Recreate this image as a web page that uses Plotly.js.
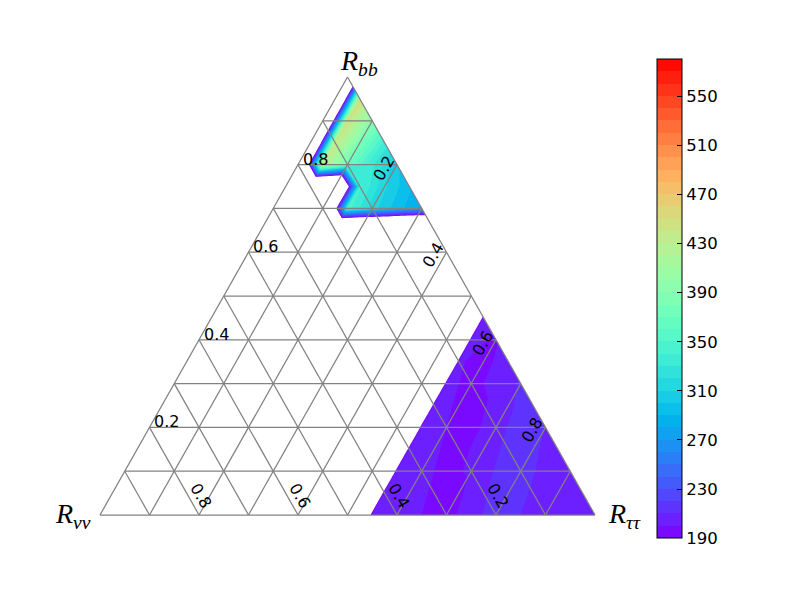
<!DOCTYPE html>
<html>
<head>
<meta charset="utf-8">
<script src="https://cdn.plot.ly/plotly-3.0.1.min.js"></script>
<style>html,body{margin:0;padding:0;background:#fff;}</style>
</head>
<body>
<div id="chart" style="width:800px;height:600px;"></div>
<script>
// ---------------- DATA ----------------
// Ternary lattice (step 0.05). Rows: R_bb value; columns: R_tautau value.
// R_nunu = 1 - R_bb - R_tautau. 0 = no allowed point (below lowest level).
const bbLevels = [0.00,0.05,0.10,0.15,0.20,0.25,0.30,0.35,0.40,0.45,0.50,
                  0.55,0.60,0.65,0.70,0.75,0.80,0.85,0.90,0.95,1.00];
const ttLevels = [0.00,0.05,0.10,0.15,0.20,0.25,0.30,0.35,0.40,0.45,0.50,
                  0.55,0.60,0.65,0.70,0.75,0.80,0.85,0.90,0.95,1.00];
// row j (R_bb = bbLevels[j]) lists values for R_tautau = 0 ... 1 - R_bb
const zRows = [
  [0,0,0,0,0,0,0,0,0,0,0, 205,204,200,196,206,215,210,206,205,204],
  [0,0,0,0,0,0,0,0,0,0,0, 205,203,199,198,209,214,209,206,205],
  [0,0,0,0,0,0,0,0,0,0,0, 204,202,198,201,211,213,208,205],
  [0,0,0,0,0,0,0,0,0,0,0, 204,201,197,204,213,211,207],
  [0,0,0,0,0,0,0,0,0,0,0, 204,200,196,207,214,210],
  [0,0,0,0,0,0,0,0,0,0,0, 203,199,199,209,213],
  [0,0,0,0,0,0,0,0,0,0,0, 202,198,202,211],
  [0,0,0,0,0,0,0,0,0,0,0, 201,197,205],
  [0,0,0,0,0,0,0,0,0,0,0, 202,199],
  [0,0,0,0,0,0,0,0,0,0,0, 203],
  [0,0,0,0,0,0,0,0,0,0,0],
  [0,0,0,0,0,0,0,0,0,0],
  [0,0,0,0,0,0,0,0,0],
  [0,0,0,0,0,0,0,0],
  [0,0,0,345,315,295,278],
  [0,0,0,342,312,292],
  [0,434,372,332,302],
  [0,440,382,337],
  [0,446,392],
  [0,450],
  [0]
];
const levelStart = 190, levelEnd = 580, levelSize = 10;
const cbTick0 = 190, cbDtick = 40;
const gridValues = [0.1,0.2,0.3,0.4,0.5,0.6,0.7,0.8,0.9];
const tickValues = [0.2,0.4,0.6,0.8];
const tickLabels = ['0.2','0.4','0.6','0.8'];
const labelBB = '<i>R</i><sub><i>bb</i></sub>';
const labelNN = '<i>R</i><sub><i>νν</i></sub>';
const labelTT = '<i>R</i><sub><i>ττ</i></sub>';

// ---------------- helpers ----------------
const toX = (tt, bb) => tt + bb / 2;
const toY = (tt, bb) => bb;

function rainbow(v) {
  const c = t => Math.round(255 * Math.max(0, Math.min(1, t)));
  return 'rgb(' + c(Math.abs(2*v - 0.5)) + ',' + c(Math.sin(Math.PI*v)) + ',' + c(Math.cos(Math.PI*v/2)) + ')';
}
const nBands = Math.round((levelEnd - levelStart) / levelSize);  // 39
const nLevels = nBands + 1;                                        // 40
// contour colorscale: position 0 = below lowest level (transparent)
const contourScale = [[0, 'rgba(255,255,255,0)']];
for (let k = 0; k < nBands; k++) contourScale.push([(k + 1) / nLevels, rainbow((k + 0.5) / nBands)]);
contourScale.push([1, rainbow(1)]);
// stepped colorscale for colorbar
const barScale = [];
for (let k = 0; k < nBands; k++) {
  const col = rainbow((k + 0.5) / nBands);
  barScale.push([k / nBands, col]);
  barScale.push([(k + 1) / nBands, col]);
}

// carpet grid (nodes beyond the right edge collapse onto the edge)
const N = ttLevels.length;
const X = [], Y = [], Z = [];
for (let j = 0; j < bbLevels.length; j++) {
  const bb = bbLevels[j];
  const row = zRows[j];
  const xr = [], yr = [], zr = [];
  for (let i = 0; i < N; i++) {
    const ii = Math.min(i, row.length - 1);
    const tt = ttLevels[ii];
    xr.push(toX(tt, bb)); yr.push(toY(tt, bb)); zr.push(row[ii]);
  }
  X.push(xr); Y.push(yr); Z.push(zr);
}

// grid lines
const gx = [], gy = [];
function seg(t1, b1, t2, b2) { gx.push(toX(t1,b1), toX(t2,b2), null); gy.push(toY(t1,b1), toY(t2,b2), null); }
gridValues.forEach(v => {
  seg(0, v, 1 - v, v);          // constant R_bb
  seg(v, 0, v, 1 - v);          // constant R_tautau
  seg(1 - v, 0, 0, 1 - v);      // constant R_nunu
});
seg(0,0,1,0); seg(1,0,0,1); seg(0,1,0,0);

const hidden = {showgrid:false, showline:false, showticklabels:'none', startline:false, endline:false,
                minorgridcount:0, smoothing:0};

const traces = [
  {type:'carpet', carpet:'tern', a: ttLevels, b: bbLevels, x: X, y: Y,
   aaxis: hidden, baxis: hidden, hoverinfo:'skip'},
  {type:'contourcarpet', carpet:'tern', z: Z, autocontour:false,
   contours:{start:levelStart, end:levelEnd, size:levelSize, coloring:'fill', showlines:false},
   line:{width:0, smoothing:0}, colorscale: contourScale, showscale:false, hoverinfo:'skip'},
  {type:'scatter', mode:'lines', x: gx, y: gy, line:{color:'#828282', width:1.25},
   hoverinfo:'skip', showlegend:false},
  {type:'heatmap', x:[5,6], y:[5], z:[[levelStart, levelEnd]], zmin:levelStart, zmax:levelEnd,
   colorscale: barScale, hoverinfo:'skip',
   colorbar:{x:1.0117, xanchor:'left', y:0.5025, yanchor:'middle', len:0.958, lenmode:'fraction',
             thickness:25, thicknessmode:'pixels', xpad:0, ypad:0,
             outlinecolor:'#000', outlinewidth:1, ticks:'inside', ticklen:5, tickcolor:'#000',
             tick0:cbTick0, dtick:cbDtick, tickmode:'linear',
             tickfont:{family:'DejaVu Sans', size:16.5, color:'#000'}}}
];

const ann = [];
const tf = {family:'DejaVu Sans', size:16, color:'#000'};
tickValues.forEach((v, k) => {
  // R_bb ticks on left edge
  ann.push({x: toX(0, v), y: toY(0, v), text: tickLabels[k], showarrow:false,
            xanchor:'center', yanchor:'middle', xshift:17, yshift:5.5, font: tf});
  // R_nunu ticks on bottom edge
  ann.push({x: toX(1 - v, 0), y: toY(1 - v, 0), text: tickLabels[k], showarrow:false, textangle:60,
            xanchor:'center', yanchor:'middle', xshift:2, yshift:20, font: tf});
  // R_tautau ticks on right edge
  ann.push({x: toX(v, 1 - v), y: toY(v, 1 - v), text: tickLabels[k], showarrow:false, textangle:-60,
            xanchor:'center', yanchor:'middle', xshift:-13.5, yshift:-3.5, font: tf});
});
const lf = {family:'Liberation Serif', size:28, color:'#000'};
ann.push({x: toX(0,1), y: toY(0,1), text: labelBB, showarrow:false, xanchor:'center', yanchor:'bottom', xshift:11, yshift:-5, font: lf});
ann.push({x: toX(0,0), y: toY(0,0), text: labelNN, showarrow:false, xanchor:'right', yanchor:'middle', xshift:-7, yshift:0, font: lf});
ann.push({x: toX(1,0), y: toY(1,0), text: labelTT, showarrow:false, xanchor:'left', yanchor:'middle', xshift:11, yshift:0, font: lf});

const layout = {
  width:800, height:600,
  margin:{l:50, r:150, t:50, b:50},
  paper_bgcolor:'#fff', plot_bgcolor:'#fff',
  showlegend:false, hovermode:false,
  xaxis:{range:[-0.10101, 1.11111], visible:false, fixedrange:true},
  yaxis:{range:[-0.07991, 1.06164], visible:false, fixedrange:true},
  annotations: ann
};
Plotly.newPlot('chart', traces, layout, {displayModeBar:false, staticPlot:true});
</script>
</body>
</html>
